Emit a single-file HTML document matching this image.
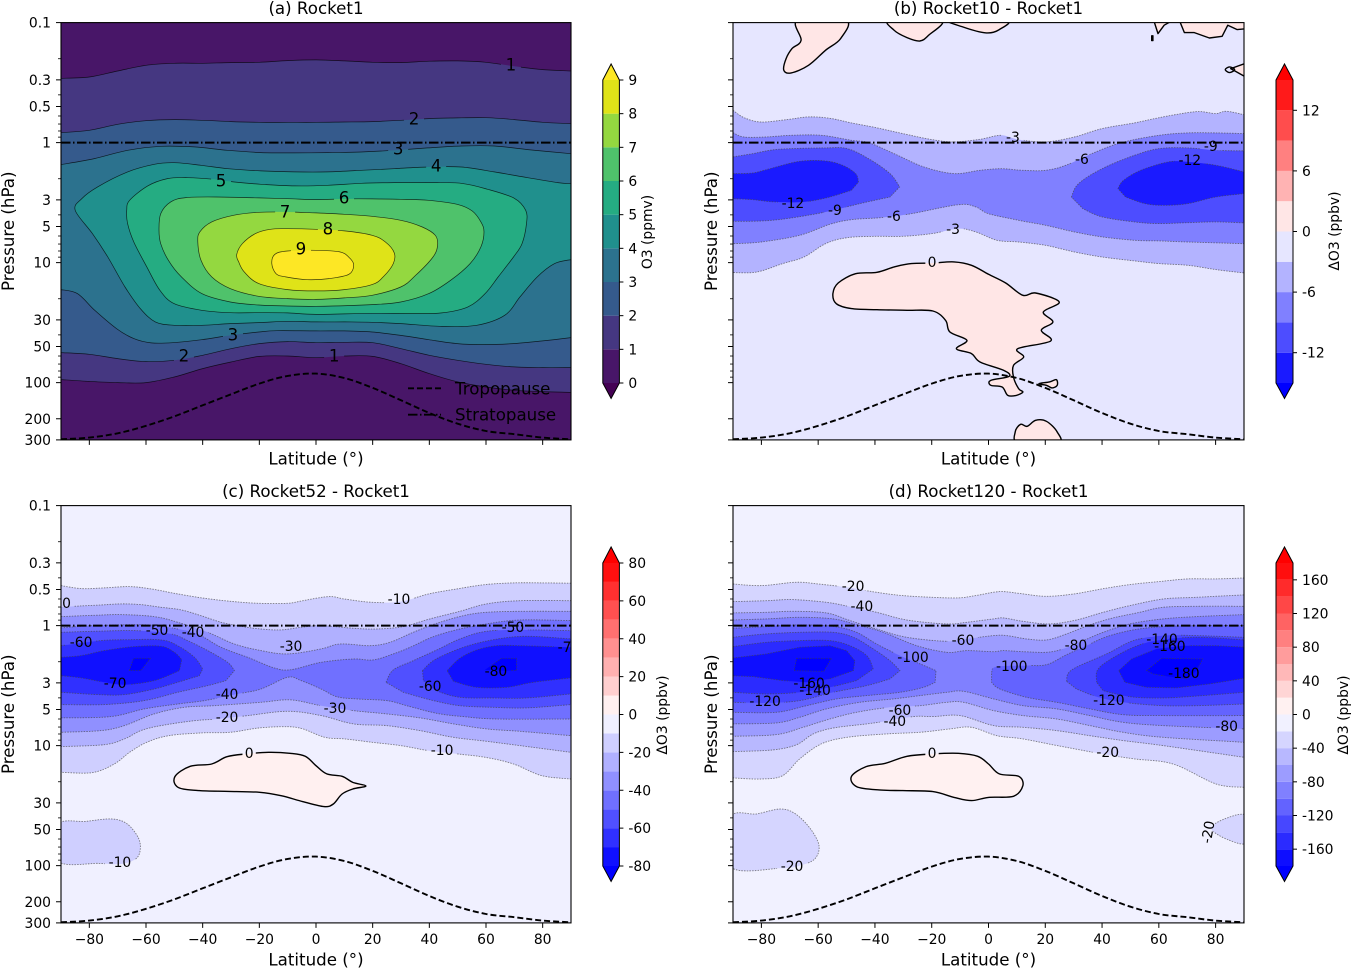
<!DOCTYPE html>
<html lang="en">
<head>
<meta charset="utf-8">
<title>Ozone response contour panels</title>
<style>
html,body{margin:0;padding:0;background:#fff;}
svg{display:block;font-family:"DejaVu Sans","Liberation Sans",sans-serif;}
</style>
</head>
<body>
<svg id="figure" width="1351" height="968" viewBox="0 0 1351 968" xmlns="http://www.w3.org/2000/svg"></svg>
<script>
// All coordinates below are [latitude in degrees, log10(pressure in hPa)].
const xTickValues = [-80,-60,-40,-20,0,20,40,60,80];
const pressureMajor = [0.1,0.3,0.5,1,3,5,10,30,50,100,200,300];
const pressureMinor = [0.2,0.4,0.6,0.7,0.8,0.9,2,4,6,7,8,9,20,40,60,70,80,90];
const tropopauseLat = [-90,-80,-70,-60,-50,-40,-30,-20,-10,0,10,20,30,40,50,60,70,80,90];
const tropopauseLogP = [2.472,2.458,2.422,2.36,2.281,2.189,2.097,2.008,1.944,1.925,1.961,2.044,2.147,2.253,2.342,2.403,2.43,2.458,2.472];

// Panel (a) contours
const a1U=[[-90,-.536],[-80,-.547],[-70,-.597],[-60,-.644],[-50,-.661],[-40,-.661],[-30,-.667],[-20,-.669],[-10,-.683],[0,-.689],[10,-.681],[20,-.669],[30,-.667],[40,-.678],[50,-.681],[60,-.669],[70,-.636],[80,-.608],[90,-.597]];
const a1L=[[-90,1.975],[-80,1.99],[-70,2],[-60,2],[-50,1.953],[-40,1.883],[-30,1.828],[-20,1.781],[-10,1.778],[0,1.792],[10,1.778],[20,1.781],[30,1.842],[40,1.925],[50,1.994],[60,2.036],[70,2.064],[80,2.075],[90,2.081]];
const a2U=[[-90,-.083],[-80,-.103],[-70,-.153],[-60,-.183],[-50,-.192],[-40,-.186],[-30,-.175],[-20,-.169],[-10,-.169],[0,-.169],[10,-.172],[20,-.175],[30,-.186],[40,-.2],[50,-.206],[60,-.208],[70,-.192],[80,-.169],[90,-.158]];
const a2L=[[-90,1.75],[-80,1.764],[-70,1.8],[-60,1.825],[-50,1.814],[-40,1.772],[-30,1.717],[-20,1.675],[-10,1.658],[0,1.667],[10,1.664],[20,1.667],[30,1.717],[40,1.772],[50,1.814],[60,1.847],[70,1.869],[80,1.875],[90,1.875]];
const a3U=[[-90,.183],[-78.2,.133],[-66.5,.064],[-54.7,.031],[-43,.036],[-31.2,.064],[-19.4,.083],[-7.6,.086],[4.1,.083],[15.9,.078],[27.6,.064],[39.4,.044],[51.2,.028],[62.9,.028],[74.7,.058],[90,.092]];
const a3L=[[-90,1.225],[-84.2,1.258],[-78.1,1.397],[-70.4,1.55],[-64.3,1.633],[-58.2,1.669],[-50.5,1.667],[-40.3,1.642],[-30.2,1.606],[-20.2,1.578],[-13.8,1.567],[0,1.569],[10,1.569],[19.8,1.578],[29.9,1.606],[39.8,1.642],[49.8,1.675],[59.7,1.683],[69.7,1.675],[79.6,1.653],[90,1.625]];
const a4=[[-85,.564],[-82.7,.467],[-77.1,.369],[-66.5,.244],[-57.1,.181],[-50,.167],[-40.6,.189],[-31.2,.217],[-19.4,.236],[-7.6,.244],[4.1,.244],[15.9,.231],[27.6,.217],[39.4,.203],[51.2,.203],[62.9,.244],[74.7,.292],[85.3,.333],[90,.342],[91,.342],[91,.975],[90,.975],[84.2,1.008],[78.1,1.119],[72,1.286],[66.6,1.439],[56.7,1.522],[44.4,1.531],[29.9,1.508],[19.8,1.497],[10,1.494],[0,1.494],[-10.1,1.489],[-20.2,1.5],[-30.2,1.508],[-40.3,1.522],[-50,1.522],[-56.7,1.494],[-62,1.383],[-67.4,1.203],[-73.5,.953],[-78.9,.758]];
const a5=[[-66.8,.564],[-65.8,.481],[-59.4,.361],[-52.4,.3],[-45.3,.292],[-35.9,.306],[-28.8,.328],[-19.4,.347],[-7.6,.361],[4.1,.356],[15.9,.339],[27.6,.333],[39.4,.333],[51.2,.339],[60.6,.389],[70,.464],[74,.564],[74.3,.675],[72.7,.842],[69.7,.953],[64.3,1.119],[59.7,1.258],[53.6,1.369],[44.4,1.419],[33.7,1.425],[19.8,1.422],[0,1.431],[-10.1,1.419],[-20.2,1.417],[-30.2,1.417],[-40.3,1.397],[-50,1.342],[-55.1,1.231],[-59.7,1.036],[-64.3,.828],[-66.5,.675]];
const a6=[[-55.4,.731],[-54.8,.592],[-51.3,.494],[-45.9,.458],[-35.2,.453],[-20.2,.461],[-10.1,.467],[0,.475],[10,.469],[19.8,.469],[29.9,.472],[39.8,.481],[49.8,.514],[55.1,.569],[58.2,.661],[59.3,.744],[58.2,.869],[54.4,1.008],[47.5,1.147],[39.8,1.258],[29.9,1.328],[19.8,1.35],[0,1.364],[-10.1,1.361],[-20.2,1.353],[-30.2,1.328],[-40.3,1.258],[-47.5,1.119],[-52.1,.981],[-54.8,.842]];
const a7=[[-41.7,.828],[-41,.744],[-36.8,.661],[-29.1,.606],[-20.2,.581],[-10.1,.578],[0,.586],[10,.597],[19.8,.614],[29.9,.647],[37.5,.703],[42.1,.772],[42.9,.856],[41.3,.953],[35.2,1.106],[29.9,1.203],[19.8,1.272],[10,1.294],[0,1.306],[-10.1,1.3],[-20.2,1.281],[-30.2,1.217],[-36.8,1.119],[-40.6,.981]];
const a8=[[-28,.933],[-26,.842],[-21.4,.758],[-16.1,.722],[-10.1,.717],[0,.722],[10,.736],[19.8,.772],[24.5,.828],[27.6,.917],[27.3,1.008],[23.7,1.119],[19.8,1.183],[10,1.225],[0,1.236],[-10.1,1.225],[-20.2,1.175],[-25.3,1.078],[-27.3,.994]];
const a9=[[-15.6,1.008],[-14.5,.931],[-10.1,.903],[0,.897],[8.4,.911],[11.5,.953],[13.3,1.017],[11.6,1.097],[4.6,1.133],[-3.1,1.142],[-10.7,1.119],[-14.1,1.092]];

// Panel (b) contours
const b3U=[[-90,-.269],[-86.1,-.208],[-80.1,-.172],[-71,-.192],[-63.4,-.214],[-55.9,-.203],[-48.3,-.164],[-39.7,-.125],[-30.2,-.075],[-19.9,-.025],[-12.1,-.006],[-3,-.028],[4.5,-.061],[10.6,-.025],[20.1,-.006],[30.2,-.047],[40,-.117],[51.4,-.164],[60.1,-.208],[70.2,-.25],[74.8,-.258],[80.1,-.242],[83.8,-.261],[90,-.233]];
const b3L=[[-90,1.083],[-81.6,1.078],[-72.5,1.008],[-65,.953],[-57.4,.842],[-49.8,.792],[-39.7,.781],[-30.2,.781],[-19.9,.758],[-10.6,.717],[-4.5,.744],[3,.814],[10.6,.828],[20.1,.856],[30.2,.911],[40,.953],[51.4,.986],[60.1,1.008],[70.2,1.022],[80.1,1.058],[90,1.086]];
const b6U=[[-90,-.083],[-86.1,-.047],[-78.5,-.047],[-69.5,-.061],[-58.9,-.061],[-48.3,-.019],[-42.3,0],[-33.2,.092],[-22.7,.203],[-12.1,.258],[-3,.231],[4.5,.217],[12.1,.231],[20.1,.231],[27.2,.189],[36.3,.092],[46.8,0],[60.1,-.061],[70.2,-.081],[80.1,-.081],[90,-.075]];
const b6L=[[-90,.842],[-80.1,.828],[-66.5,.772],[-55.9,.681],[-48.3,.642],[-37.8,.625],[-27.2,.592],[-10.6,.517],[-4.5,.536],[0,.592],[10.6,.647],[20.1,.689],[30.2,.744],[40,.786],[51.4,.814],[60.1,.819],[70.2,.828],[90,.842]];
const b9LeftU=[[-90,.119],[-83.1,.092],[-74,.056],[-57.4,.044],[-49.8,.05],[-42.3,.133],[-34.7,.258],[-31.3,.369]];
const b9LeftL=[[-90,.656],[-80.1,.653],[-71,.633],[-57.4,.578],[-45.3,.508],[-34.7,.453]];
const b9RightU=[[29.2,.453],[31.7,.342],[40,.217],[51.4,.106],[60.1,.05],[70.2,.044],[80.1,.064],[90,.069]];
const b9RightL=[[33.2,.55],[40,.619],[51.4,.661],[60.1,.675],[70.2,.667],[80.1,.661],[90,.669]];
const b12LeftU=[[-90,.258],[-83.1,.253],[-77,.217],[-66.5,.156],[-57.4,.153],[-51.4,.189],[-46.8,.258],[-45.8,.328]];
const b12LeftL=[[-90,.467],[-83.1,.475],[-75.5,.494],[-65,.494],[-55.9,.453],[-48.3,.397]];
const b12RightU=[[45.6,.383],[47.6,.314],[53.6,.231],[63.4,.161],[70.2,.161],[80.1,.189],[90,.244]];
const b12RightL=[[48.3,.453],[55.1,.508],[61.9,.522],[70.2,.508],[80.1,.453],[90,.425]];
const bIslandMain=[[-54.8,1.258],[-52.9,1.169],[-46.8,1.092],[-39.3,1.081],[-33.2,1.036],[-27.2,1.008],[-19.6,1.003],[-12.1,.994],[-6,1.022],[0,1.097],[6,1.169],[12.1,1.272],[16.6,1.253],[24.9,1.328],[19.3,1.411],[22.7,1.494],[18.6,1.564],[21.9,1.653],[10.3,1.717],[12.4,1.786],[8.8,1.856],[8.8,1.953],[10.6,2.05],[12.1,2.078],[9.8,2.106],[6.8,2.106],[4.8,2.036],[.8,2.022],[.8,1.981],[7.3,1.947],[5.3,1.897],[-3,1.828],[-6,1.758],[-11.3,1.717],[-7.6,1.647],[-13.6,1.578],[-15.1,1.481],[-19.6,1.403],[-28.7,1.397],[-39.3,1.392],[-48.3,1.383],[-53.6,1.342]];
const bIslandTop1=[[-67.2,-1.02],[-66,-.853],[-69.2,-.783],[-71.3,-.7],[-72.1,-.603],[-69.5,-.581],[-63.4,-.644],[-57.4,-.769],[-52.1,-.867],[-50.2,-1.02]];
const bIslandTop2=[[-34.7,-1.02],[-33.2,-.936],[-28.7,-.875],[-24.2,-.847],[-21.1,-.894],[-16.6,-1.02]];
const bIslandTop3=[[-13.6,-1.02],[-9.1,-.964],[-.8,-.914],[3.8,-.942],[6.3,-1.02]];
const bIslandTop4=[[58.2,-1.02],[59.7,-.908],[61.9,-.978],[65,-1.02]];
const bIslandTop5=[[67.2,-1.02],[69,-.917],[72.5,-.917],[77.8,-.872],[82.3,-.886],[84.3,-.978],[87.6,-.942],[91,-.95],[91,-1.02]];
const bIslandEdge=[[91,-.664],[85.3,-.617],[91,-.542]];
const bIslandBottom=[[10.6,2.5],[9.4,2.411],[11.3,2.347],[13.6,2.364],[16.6,2.314],[20.4,2.322],[24.2,2.411],[24.5,2.5]];
const bIslandTiny=[[17.8,2.008],[21.5,1.994],[23.9,1.975],[24.2,2.022],[22.4,2.044],[20.4,2.022]];
const bHoleEdge=[[83.4,-.608],[84.9,-.631],[86.7,-.608],[84.9,-.583]];
const bHoleDot=[[57.5,-.89],[57.9,-.89],[57.9,-.85],[57.5,-.85]];

// Panel (c) contours
const c10U=[[-90,-.333],[-82.7,-.308],[-75,-.314],[-65.8,-.325],[-58.2,-.306],[-50,-.269],[-40.3,-.231],[-30.2,-.203],[-20.2,-.186],[-10.1,-.186],[-4.6,-.208],[4.6,-.242],[10,-.222],[19.8,-.194],[29.9,-.2],[39.8,-.264],[49.8,-.306],[59.7,-.342],[69.7,-.356],[79.6,-.356],[90,-.353]];
const c10L=[[-90,1.222],[-78.9,1.225],[-71.2,1.153],[-65.8,1.056],[-59.7,.972],[-52,.917],[-40.3,.894],[-30.2,.889],[-20.2,.853],[-10.1,.842],[-4.6,.861],[3.1,.931],[10,.944],[19.8,.972],[29.9,1],[39.8,1.042],[49.8,1.069],[59.7,1.097],[69.7,1.153],[79.6,1.25],[90,1.278]];
const c10Blob=[[-91,1.658],[-81.2,1.631],[-72,1.611],[-66.6,1.653],[-62.8,1.764],[-62,1.861],[-63.6,1.944],[-68.9,1.986],[-76.6,1.981],[-91,1.964]];
const c20U=[[-90,-.153],[-82.9,-.164],[-75.9,-.172],[-68.8,-.181],[-61.8,-.175],[-54.7,-.153],[-47.6,-.131],[-40.6,-.083],[-33.5,-.028],[-26.5,.006],[-19.4,.028],[-12.4,.036],[-5.3,.014],[1.8,0],[13.2,.022],[21.4,.028],[30.8,.008],[40.2,-.056],[50.8,-.119],[60.2,-.181],[72,-.208],[90,-.208]];
const c20L=[[-90,1.008],[-74.7,.992],[-67.6,.944],[-61.8,.875],[-54.7,.833],[-42.9,.792],[-34.7,.778],[-24.1,.75],[-10,.714],[1.8,.75],[13.2,.819],[24.9,.833],[36.7,.875],[48.5,.931],[60.2,.964],[72,1],[90,1.056]];
const c30U=[[-90,-.075],[-78.2,-.086],[-68.8,-.092],[-57.1,-.075],[-48.8,-.028],[-38.2,.056],[-28.8,.153],[-19.4,.208],[-10,.236],[1.8,.194],[8.5,.153],[19,.167],[26.1,.139],[34.3,.056],[42.6,-.019],[52,-.083],[60.2,-.111],[72,-.119],[90,-.119]];
const c30L=[[-90,.889],[-75.9,.875],[-67.6,.833],[-57.1,.736],[-46.5,.681],[-35.9,.667],[-19.4,.639],[-8.8,.619],[1.8,.667],[13.2,.708],[24.9,.736],[36.7,.769],[48.5,.819],[60.2,.861],[72,.881],[90,.917]];
const c40U=[[-90,.019],[-78.2,0],[-59.4,-.006],[-48.8,.028],[-41.8,.069],[-33.5,.181],[-24.1,.264],[-14.7,.353],[-8.8,.367],[1.8,.306],[13.2,.278],[20.2,.286],[27.3,.236],[33.2,.181],[41.4,.092],[50.8,.028],[60.2,-.014],[72,-.047],[90,-.042]];
const c40L=[[-90,.769],[-72.4,.758],[-60.6,.694],[-48.8,.653],[-39.4,.625],[-27.6,.569],[-19.4,.528],[-10,.431],[-5.3,.458],[1.8,.528],[7.3,.592],[14.3,.611],[24.9,.625],[32,.667],[42.6,.731],[52,.758],[63.8,.778],[90,.778]];
const c50LeftU=[[-90,.056],[-78.2,.047],[-62.9,.042],[-51.2,.069],[-45.3,.125],[-38.2,.208],[-31.2,.306],[-28.8,.375]];
const c50LeftL=[[-90,.658],[-74.7,.658],[-60.6,.625],[-48.8,.556],[-38.2,.5],[-31.8,.458]];
const c50RightU=[[24.7,.472],[27.3,.369],[34.3,.292],[42.6,.203],[50.8,.111],[60.2,.047],[74.3,.036],[90,.042]];
const c50RightL=[[30.8,.556],[41.4,.625],[50.8,.667],[62.6,.681],[74.3,.686],[90,.658]];
const c60LeftU=[[-90,.167],[-75.9,.125],[-66.5,.117],[-54.7,.119],[-48.8,.167],[-42.9,.264],[-40,.361]];
const c60LeftL=[[-90,.556],[-77.1,.575],[-67.6,.575],[-57.1,.528],[-48.8,.472],[-41.2,.417]];
const c60RightU=[[37.6,.375],[42,.283],[52,.181],[62.6,.117],[74.3,.089],[90,.111]];
const c60RightL=[[37.9,.458],[42.6,.542],[50.8,.597],[62.6,.603],[74.3,.603],[90,.569]];
const c70LeftU=[[-90,.264],[-82.9,.25],[-74.7,.208],[-64.1,.175],[-54.7,.172],[-50,.222],[-47.4,.283]];
const c70LeftL=[[-90,.417],[-82.9,.436],[-74.7,.472],[-67.6,.492],[-57.1,.458],[-48.2,.375]];
const c70RightU=[[46.3,.375],[50.8,.272],[56.7,.203],[63.8,.167],[72,.167],[90,.181]];
const c70RightL=[[48.5,.464],[56.7,.514],[67.3,.514],[76.7,.472],[90,.436]];
const c80Left=[[-65.9,.375],[-64.4,.272],[-58.5,.272],[-61.8,.375]];
const c80Right=[[59.6,.369],[65.5,.272],[70.8,.272],[70.8,.375],[66.1,.375]];
const cIsland=[[-49.8,1.258],[-44.4,1.172],[-36.8,1.153],[-31.4,1.092],[-24.5,1.069],[-16.8,1.056],[-9.2,1.064],[-3.8,1.089],[0,1.167],[3.8,1.236],[9.2,1.256],[13,1.306],[17.6,1.336],[13,1.361],[9.2,1.403],[6.1,1.486],[2.8,1.508],[-4.6,1.467],[-12.3,1.417],[-19.9,1.389],[-30.6,1.381],[-41.3,1.375],[-48.7,1.347]];

// Panel (d) contours
const d20U=[[-90,-.347],[-80.1,-.333],[-68,-.361],[-60,-.347],[-48.3,-.314],[-39.7,-.278],[-30.2,-.25],[-19.9,-.236],[-10.6,-.231],[-4.5,-.25],[3.8,-.283],[10.6,-.269],[20.1,-.244],[30.2,-.264],[40,-.306],[49.8,-.342],[60.1,-.367],[70.2,-.389],[80.1,-.389],[90,-.397]];
const d20L=[[-90,1.269],[-80.1,1.278],[-72.5,1.25],[-66.5,1.111],[-58.9,.986],[-49.8,.931],[-36.3,.903],[-24.2,.889],[-13.6,.861],[-6,.847],[3,.917],[12.1,.944],[24.2,1],[40,1.069],[51.4,1.111],[65,1.153],[80.1,1.319],[90,1.347]];
const d20BlobLeft=[[-91,1.597],[-81.6,1.569],[-73.3,1.528],[-68,1.569],[-62.7,1.694],[-59.7,1.833],[-61.2,1.944],[-66.5,2],[-73.3,2.022],[-91,2.008]];
const d20BlobRight=[[91,1.583],[83.1,1.611],[78.5,1.694],[84.6,1.786],[91,1.806]];
const d40U=[[-90,-.2],[-78.2,-.208],[-68.8,-.217],[-57.1,-.194],[-48.8,-.158],[-39.4,-.111],[-28.8,-.047],[-14.7,-.014],[-7.6,-.028],[1.8,-.056],[5.2,-.064],[12.2,-.036],[21.6,-.014],[31,-.047],[40.4,-.111],[49.8,-.167],[61.5,-.222],[73.3,-.236],[90,-.256]];
const d40L=[[-90,1.05],[-75.9,1.036],[-67.6,.992],[-61.8,.903],[-54.7,.853],[-42.9,.819],[-37.1,.8],[-26.5,.758],[-19.4,.758],[-10,.75],[1.8,.833],[12.2,.847],[24,.875],[35.7,.917],[47.4,.958],[61.5,1],[90,1.097]];
const d60U=[[-90,-.106],[-78.2,-.111],[-68.8,-.119],[-57.1,-.106],[-48.8,-.042],[-39.4,.028],[-28.8,.097],[-14.7,.131],[-7.6,.111],[1.8,.083],[6.4,.083],[13.4,.111],[20.5,.119],[27.5,.069],[35.7,-.006],[43.9,-.064],[53.3,-.111],[61.5,-.153],[73.3,-.161],[90,-.161]];
const d60L=[[-90,.922],[-74.7,.908],[-65.3,.847],[-55.9,.778],[-46.5,.722],[-34.7,.681],[-24.1,.667],[-14.7,.639],[-8.8,.639],[1.8,.708],[12.2,.75],[24,.778],[35.7,.833],[47.4,.889],[61.5,.931],[90,.972]];
const d80U=[[-90,-.047],[-78.2,-.056],[-66.5,-.069],[-54.7,-.056],[-46.5,-.008],[-37.1,.056],[-25.3,.167],[-14.7,.222],[-7.6,.208],[1.8,.217],[5.2,.208],[12.2,.217],[20.5,.222],[26.3,.194],[33.4,.125],[40.4,.056],[49.8,-.014],[61.5,-.056],[73.3,-.075],[90,-.092]];
const d80L=[[-90,.819],[-74.7,.811],[-66.5,.764],[-57.1,.694],[-45.3,.639],[-33.5,.611],[-24.1,.583],[-14.7,.556],[-8.8,.547],[1.8,.611],[12.2,.667],[24,.694],[35.7,.75],[47.4,.806],[61.5,.833],[90,.861]];
const d100LeftU=[[-90,.022],[-78.2,.008],[-66.5,-.006],[-54.7,.006],[-46.5,.056],[-39.4,.153],[-31.2,.25],[-24.1,.319],[-18.5,.375]];
const d100LeftL=[[-90,.722],[-74.7,.722],[-64.1,.667],[-53.5,.611],[-42.9,.583],[-31.2,.556],[-22.9,.514],[-18.8,.472]];
const d100RightU=[[1.1,.389],[2.8,.342],[13.4,.333],[20.5,.325],[27.5,.242],[34.5,.167],[41.6,.092],[51,.036],[61.5,.008],[75.6,0],[90,0]];
const d100RightL=[[1.1,.472],[4,.528],[13.4,.597],[24,.639],[35.7,.694],[47.4,.742],[61.5,.75],[90,.75]];
const d120LeftU=[[-90,.097],[-78.2,.069],[-66.5,.056],[-54.7,.056],[-47.6,.097],[-40.6,.194],[-34.7,.292],[-31.2,.375]];
const d120LeftL=[[-90,.639],[-78.2,.644],[-66.5,.625],[-54.7,.556],[-42.9,.5],[-34.7,.444]];
const d120RightU=[[27.5,.464],[29.3,.369],[41.6,.236],[51,.125],[61.5,.083],[73.3,.083],[90,.097]];
const d120RightL=[[31,.528],[38.1,.592],[47.4,.639],[61.5,.667],[73.3,.667],[90,.653]];
const d140LeftU=[[-90,.175],[-78.2,.139],[-66.5,.125],[-55.9,.125],[-48.8,.167],[-42.9,.25],[-40.6,.361]];
const d140LeftL=[[-90,.556],[-78.2,.569],[-66.5,.556],[-55.9,.514],[-46.5,.458]];
const d140RightU=[[38.1,.472],[38.3,.375],[42.2,.292],[51,.181],[59.2,.125],[73.3,.097],[90,.119]];
const d140RightL=[[40.4,.542],[49.8,.592],[61.5,.603],[75.6,.583],[90,.556]];
const d160Left=[[-91,.272],[-78.2,.236],[-66.5,.181],[-55.9,.167],[-50,.208],[-47.1,.292],[-47.6,.375],[-55.9,.444],[-64.1,.472],[-72.4,.458],[-82.9,.425],[-91,.417]];
const d160Right=[[45.9,.375],[50.4,.278],[59.2,.194],[68.6,.167],[80.3,.167],[91,.181],[91,.436],[78,.486],[66.2,.519],[55.7,.514],[48,.472]];
const d180Left=[[-67.6,.272],[-55.3,.272],[-58,.381],[-68.5,.375]];
const d180Right=[[55.7,.375],[61,.272],[75.4,.278],[73.3,.375],[69.7,.444],[61.5,.417],[58,.403]];
const dIsland=[[-48.3,1.258],[-43.1,1.175],[-36.3,1.147],[-28.7,1.089],[-19.6,1.069],[-10.6,1.064],[-3.8,1.089],[0,1.153],[3.8,1.236],[10.6,1.256],[12.1,1.333],[8.8,1.422],[0,1.431],[-6,1.458],[-12.1,1.431],[-19.6,1.383],[-30.2,1.375],[-38.5,1.369],[-46.4,1.342]];

// Colour-bar levels and band colours
const aLevels=[0,1,2,3,4,5,6,7,8,9];
const aColors=['#481668','#453781','#355a8c','#2c728e','#20908d','#25ac82','#4fc26b','#94d840','#dfe318'];
const aTicks=[0,1,2,3,4,5,6,7,8,9];
const bLevels=[-15,-12,-9,-6,-3,0,3,6,9,12,15];
const bColors=['#1a1aff','#4d4dff','#8080ff','#b3b3ff','#e6e6ff','#ffe6e6','#ffb3b3','#ff8080','#ff4d4d','#ff1a1a'];
const bTicks=[-12,-6,0,6,12];
const cLevels=[-80,-70,-60,-50,-40,-30,-20,-10,0,10,20,30,40,50,60,70,80];
const cColors=['#1010ff','#3030ff','#5050ff','#7070ff','#9090ff','#b0b0ff','#cfcfff','#f0f0ff','#fff0f0','#ffcfcf','#ffb0b0','#ff9090','#ff7070','#ff5050','#ff3030','#ff1010'];
const cTicks=[-80,-60,-40,-20,0,20,40,60,80];
const dLevels=[-180,-160,-140,-120,-100,-80,-60,-40,-20,0,20,40,60,80,100,120,140,160,180];
const dColors=['#0e0eff','#2b2bff','#4747ff','#6363ff','#8080ff','#9c9cff','#b8b8ff','#d5d5ff','#f1f1ff','#fff1f1','#ffd5d5','#ffb8b8','#ff9c9c','#ff8080','#ff6363','#ff4747','#ff2b2b','#ff0e0e'];
const dTicks=[-160,-120,-80,-40,0,40,80,120,160];

// Contour label text with position
const aLabelText=['1','2','3','4','5','6','7','8','9','3','2','1'];
const aLabelLat=[68.8,34.6,29,42.4,-33.5,9.9,-10.9,4.2,-5.3,-29.3,-46.6,6.4];
const aLabelLogP=[-.655,-.205,.045,.187,.312,.453,.57,.712,.878,1.595,1.77,1.77];
const bLabelText=['-3','-6','-9','-12','-12','-9','-6','-3','0'];
const bLabelLat=[8.6,32.9,78.3,70.9,-68.9,-54.1,-33.3,-12.5,-19.9];
const bLabelLogP=[-.047,.137,.028,.145,.503,.562,.612,.72,.995];
const cLabelText=['-70','-10','-50','-40','-60','-30','-50','-70','-80','-70','-60','-40','-30','-20','-10','0','-10'];
const cLabelLat=[-90.5,29.3,-56.1,-43.4,-82.9,-8.8,69.5,89.3,63.5,-70.9,40.3,-31.4,6.7,-31.4,44.5,-23.6,-69.2];
const cLabelLogP=[-.188,-.222,.037,.053,.137,.17,.012,.178,.378,.478,.503,.57,.687,.762,1.037,1.062,1.97];
const dLabelText=['-20','-40','-60','-100','-100','-80','-140','-160','-180','-160','-140','-120','-120','-60','-40','-80','-20','0','-20','-20'];
const dLabelLat=[-47.7,-44.6,-9,-26.6,8.2,30.8,61.1,63.9,68.8,-63.2,-61.1,-78.7,42.4,-31.2,-33,83.9,42,-19.9,-69.2,77.6];
const dLabelLogP=[-.33,-.163,.12,.262,.337,.162,.112,.17,.395,.478,.537,.628,.62,.703,.795,.837,1.053,1.062,2.003,1.712];

const svg=document.getElementById('figure');
const NS='http://www.w3.org/2000/svg';
const TICK=13.89, LABEL=16.67, SHIFT=1;
function make(tag,name,attrs,parent,text){
  const node=document.createElementNS(NS,tag);
  
  
  for(const k in attrs)node.setAttribute(k,attrs[k]);
  if(text!==undefined)node.textContent=text;
  (parent||svg).appendChild(node);
  return node;
}
function segs(p){
  let s='';
  for(let i=0;i<p.length-1;i++){
    const a=p[Math.max(i-1,0)],b=p[i],c=p[i+1],d=p[Math.min(i+2,p.length-1)];
    s+='C'+(b[0]+(c[0]-a[0])/6).toFixed(1)+' '+(b[1]+(c[1]-a[1])/6).toFixed(1)+' '+(c[0]-(d[0]-b[0])/6).toFixed(1)+' '+(c[1]-(d[1]-b[1])/6).toFixed(1)+' '+c[0].toFixed(1)+' '+c[1].toFixed(1);
  }
  return s;
}
function linePath(p){return 'M'+p.map(q=>q[0].toFixed(1)+' '+q[1].toFixed(1)).join('L');}
function panelAxes(left,top,width,height){
  const dec=height/Math.log10(3000);
  return {
    left,top,width,height,
    x:lat=>left+(lat+90)/180*width,
    y:lp=>top+(lp+1)*dec
  };
}
function project(ax,pts){return pts.map(q=>[ax.x(q[0]),ax.y(q[1])]);}
function bandPath(ax,up,low){
  const u=project(ax,up),l=project(ax,low).reverse();
  return 'M'+u[0][0].toFixed(1)+' '+u[0][1].toFixed(1)+segs(u)+'L'+l[0][0].toFixed(1)+' '+l[0][1].toFixed(1)+segs(l)+'Z';
}
function ringPath(ax,ring,smooth){
  const r=project(ax,ring);
  if(!smooth)return linePath(r)+'Z';
  const n=r.length;let s='M'+r[0][0].toFixed(1)+' '+r[0][1].toFixed(1);
  for(let i=0;i<n;i++){
    const a=r[(i-1+n)%n],b=r[i],c=r[(i+1)%n],d=r[(i+2)%n];
    s+='C'+(b[0]+(c[0]-a[0])/6).toFixed(1)+' '+(b[1]+(c[1]-a[1])/6).toFixed(1)+' '+(c[0]-(d[0]-b[0])/6).toFixed(1)+' '+(c[1]-(d[1]-b[1])/6).toFixed(1)+' '+c[0].toFixed(1)+' '+c[1].toFixed(1);
  }
  return s+'Z';
}
function drawPanel(cfg){
  const ax=panelAxes(cfg.left,cfg.top,cfg.width,cfg.height);
  const g=make('g',cfg.id+'-panel',{},svg);
  const clipId=cfg.id+'-clip',maskId=cfg.id+'-label-gaps';
  const defs=make('defs',cfg.id+'-defs',{},g);
  const cp=make('clipPath',cfg.id+'-clip-path',{id:clipId},defs);
  make('rect',cfg.id+'-clip-rect',{x:ax.left,y:ax.top,width:ax.width,height:ax.height},cp);
  const mask=make('mask',cfg.id+'-label-gap-mask',{id:maskId,maskUnits:'userSpaceOnUse',x:ax.left-2,y:ax.top-2,width:ax.width+4,height:ax.height+4},defs);
  make('rect',cfg.id+'-mask-base',{x:ax.left-2,y:ax.top-2,width:ax.width+4,height:ax.height+4,fill:'#fff'},mask);
  cfg.labelText.forEach((t,i)=>{
    const w=t.length*cfg.labelSize*.6+cfg.labelPad,h=cfg.labelGapH,cxL=ax.x(cfg.labelLat[i]),cyL=ax.y(cfg.labelLogP[i]);
    const a={x:cxL-w/2,y:cyL-h/2,width:w,height:h,fill:'#000'};
    if(cfg.rotated===i)a.transform='rotate(-80 '+cxL+' '+cyL+')';
    make('rect',cfg.id+'-mask-gap',a,mask);
  });
  const plot=make('g',cfg.id+'-plot-area',{'clip-path':'url(#'+clipId+')'},g);
  make('rect',cfg.id+'-background-band',{x:ax.left,y:ax.top,width:ax.width,height:ax.height,fill:cfg.base},plot);
  const paths=cfg.layers.map(layer=>layer.band?bandPath(ax,layer.band[0],layer.band[1]):ringPath(ax,layer.ring,layer.smooth!==false));
  cfg.layers.forEach((layer,i)=>{
    make('path',cfg.id+'-filled-'+layer.name,{d:paths[i],fill:layer.fill},plot);
  });
  const lines=make('g',cfg.id+'-contour-lines',{mask:'url(#'+maskId+')'},plot);
  cfg.layers.forEach((layer,i)=>{
    const attrs={d:paths[i],fill:'none'};
    if(layer.zero){attrs.stroke='#000';attrs['stroke-width']=1.4;attrs['stroke-linejoin']='round';}
    else if(cfg.solid){attrs.stroke='#000';attrs['stroke-width']=.7;attrs['stroke-opacity']=.75;}
    else{attrs.stroke='#444';attrs['stroke-opacity']=.65;attrs['stroke-width']=.9;attrs['stroke-dasharray']='1.5 1.2';}
    make('path',cfg.id+'-contour-'+layer.name,attrs,lines);
  });
  const tp=project(ax,tropopauseLat.map((lat,i)=>[lat,tropopauseLogP[i]]));
  make('path',cfg.id+'-tropopause-line',{d:'M'+tp[0][0].toFixed(1)+' '+tp[0][1].toFixed(1)+segs(tp),fill:'none',stroke:'#000','stroke-width':1.9,'stroke-dasharray':'6 3'},plot);
  make('line',cfg.id+'-stratopause-line',{x1:ax.left,x2:ax.left+ax.width,y1:ax.y(0),y2:ax.y(0),stroke:'#000','stroke-width':2,'stroke-dasharray':'9.5 2.5 1.5 2.5'},plot);
  cfg.labelText.forEach((t,i)=>{
    const a={x:ax.x(cfg.labelLat[i]),y:ax.y(cfg.labelLogP[i])+SHIFT,'text-anchor':'middle','dominant-baseline':'central','font-size':cfg.labelSize,fill:'#000'};
    if(cfg.rotated===i)a.transform='rotate(-80 '+a.x+' '+a.y+')';
    make('text',cfg.id+'-contour-label',a,plot,t);
  });
  if(cfg.legend){
    [['Tropopause','6 3',ax.y(2.047)],['Stratopause','9.5 2.5 1.5 2.5',ax.y(2.267)]].forEach(e=>{
      make('line','legend-line-'+e[0].toLowerCase(),{x1:408,x2:441,y1:e[2],y2:e[2],stroke:'#000','stroke-width':1.9,'stroke-dasharray':e[1]},plot);
      make('text','legend-entry-'+e[0].toLowerCase(),{x:455,y:e[2]+.5,'dominant-baseline':'central','font-size':LABEL,fill:'#000'},plot,e[0]);
    });
  }
  make('rect',cfg.id+'-axes-frame',{x:ax.left,y:ax.top,width:ax.width,height:ax.height,fill:'none',stroke:'#000','stroke-width':1.1},g);
  const bottom=ax.top+ax.height;
  xTickValues.forEach(v=>{
    const px=ax.x(v);
    make('line',cfg.id+'-x-tick',{x1:px,x2:px,y1:bottom,y2:bottom+5,stroke:'#000','stroke-width':1},g);
    if(cfg.xLabels)make('text',cfg.id+'-x-tick-label',{x:px,y:bottom+16+SHIFT,'text-anchor':'middle','dominant-baseline':'central','font-size':TICK},g,String(v).replace('-','\u2212'));
  });
  pressureMajor.forEach(p=>{
    const py=ax.y(Math.log10(p));
    make('line',cfg.id+'-y-tick',{x1:ax.left-5,x2:ax.left,y1:py,y2:py,stroke:'#000','stroke-width':1},g);
    if(cfg.yLabels)make('text',cfg.id+'-y-tick-label',{x:ax.left-10,y:py+SHIFT,'text-anchor':'end','dominant-baseline':'central','font-size':TICK},g,String(p));
  });
  pressureMinor.forEach(p=>{
    const py=ax.y(Math.log10(p));
    make('line',cfg.id+'-y-minor-tick',{x1:ax.left-3,x2:ax.left,y1:py,y2:py,stroke:'#000','stroke-width':.8},g);
  });
  const cx=ax.left+ax.width/2,cy=ax.top+ax.height/2;
  make('text',cfg.id+'-title',{x:cx,y:ax.top-14,'text-anchor':'middle','dominant-baseline':'central','font-size':LABEL},g,cfg.title);
  make('text',cfg.id+'-x-axis-title',{x:cx,y:bottom+19+(cfg.xLabels?18:0),'text-anchor':'middle','dominant-baseline':'central','font-size':LABEL},g,'Latitude (\u00b0)');
  make('text',cfg.id+'-y-axis-title',{x:cfg.yTitleX,y:cy,'text-anchor':'middle','dominant-baseline':'central','font-size':LABEL,transform:'rotate(-90 '+cfg.yTitleX+' '+cy+')'},g,'Pressure (hPa)');
  // colour bar
  const b=cfg.bar;
  const vToY=v=>b.top+(b.levels[b.levels.length-1]-v)/(b.levels[b.levels.length-1]-b.levels[0])*(b.bottom-b.top);
  const bg=make('g',cfg.id+'-colorbar',{},g);
  b.colors.forEach((c,i)=>{
    const y1=vToY(b.levels[i+1]),y0=vToY(b.levels[i]);
    make('rect',cfg.id+'-colorbar-band',{x:b.x,y:y1,width:b.w,height:y0-y1,fill:c},bg);
  });
  const xm=b.x+b.w/2;
  make('polygon',cfg.id+'-colorbar-over-tip',{points:b.x+','+b.top+' '+(b.x+b.w)+','+b.top+' '+xm+','+(b.top-16),fill:b.over},bg);
  make('polygon',cfg.id+'-colorbar-under-tip',{points:b.x+','+b.bottom+' '+(b.x+b.w)+','+b.bottom+' '+xm+','+(b.bottom+15.5),fill:b.under},bg);
  make('polygon',cfg.id+'-colorbar-outline',{points:[b.x+','+b.top,xm+','+(b.top-16),(b.x+b.w)+','+b.top,(b.x+b.w)+','+b.bottom,xm+','+(b.bottom+15.5),b.x+','+b.bottom].join(' '),fill:'none',stroke:'#000','stroke-width':1},bg);
  b.ticks.forEach(v=>{
    const py=vToY(v);
    make('line',cfg.id+'-colorbar-tick',{x1:b.x+b.w,x2:b.x+b.w+4,y1:py,y2:py,stroke:'#000','stroke-width':1},bg);
    make('text',cfg.id+'-colorbar-tick-label',{x:b.x+b.w+9,y:py+SHIFT,'dominant-baseline':'central','font-size':TICK},bg,String(v));
  });
  make('text',cfg.id+'-colorbar-title',{x:b.labelX,y:b.labelY,'text-anchor':'middle','dominant-baseline':'central','font-size':TICK,transform:'rotate(-90 '+b.labelX+' '+b.labelY+')'},bg,b.label);
}

drawPanel({id:'rocket1',title:'(a) Rocket1',left:61,top:22.6,width:510,height:417.3,base:aColors[0],solid:true,
  layers:[
    {name:'level-1',band:[a1U,a1L],fill:aColors[1]},
    {name:'level-2',band:[a2U,a2L],fill:aColors[2]},
    {name:'level-3',band:[a3U,a3L],fill:aColors[3]},
    {name:'level-4',ring:a4,fill:aColors[4]},
    {name:'level-5',ring:a5,fill:aColors[5]},
    {name:'level-6',ring:a6,fill:aColors[6]},
    {name:'level-7',ring:a7,fill:aColors[7]},
    {name:'level-8',ring:a8,fill:aColors[8]},
    {name:'level-9',ring:a9,fill:'#fde725'}
  ],
  labelText:aLabelText,labelLat:aLabelLat,labelLogP:aLabelLogP,labelSize:LABEL,labelPad:10,labelGapH:14,
  legend:true,xLabels:false,yLabels:true,yTitleX:8.5,
  bar:{x:602.8,w:16.6,top:80,bottom:383,levels:aLevels,colors:aColors,ticks:aTicks,over:'#fde725',under:'#440154',label:'O3 (ppmv)',labelX:648,labelY:232}
});
drawPanel({id:'rocket10',title:'(b) Rocket10 - Rocket1',left:733,top:22.6,width:511,height:417.3,base:bColors[4],
  layers:[
    {name:'minus-3',band:[b3U,b3L],fill:bColors[3]},
    {name:'minus-6',band:[b6U,b6L],fill:bColors[2]},
    {name:'minus-9-south',band:[b9LeftU,b9LeftL],fill:bColors[1]},
    {name:'minus-9-north',band:[b9RightU,b9RightL],fill:bColors[1]},
    {name:'minus-12-south',band:[b12LeftU,b12LeftL],fill:bColors[0]},
    {name:'minus-12-north',band:[b12RightU,b12RightL],fill:bColors[0]},
    {name:'zero-main',ring:bIslandMain,fill:bColors[5],zero:true},
    {name:'zero-top-1',ring:bIslandTop1,fill:bColors[5],zero:true},
    {name:'zero-top-2',ring:bIslandTop2,fill:bColors[5],zero:true},
    {name:'zero-top-3',ring:bIslandTop3,fill:bColors[5],zero:true},
    {name:'zero-top-4',ring:bIslandTop4,fill:bColors[5],zero:true,smooth:false},
    {name:'zero-top-5',ring:bIslandTop5,fill:bColors[5],zero:true,smooth:false},
    {name:'zero-edge',ring:bIslandEdge,fill:bColors[5],zero:true,smooth:false},
    {name:'zero-bottom',ring:bIslandBottom,fill:bColors[5],zero:true},
    {name:'zero-tiny',ring:bIslandTiny,fill:bColors[5],zero:true},
    {name:'zero-hole-edge',ring:bHoleEdge,fill:bColors[4],zero:true},
    {name:'zero-hole-dot',ring:bHoleDot,fill:'#000',zero:true,smooth:false}
  ],
  labelText:bLabelText,labelLat:bLabelLat,labelLogP:bLabelLogP,labelSize:TICK,labelPad:5,labelGapH:9,
  xLabels:false,yLabels:false,yTitleX:711.5,
  bar:{x:1276,w:17,top:80,bottom:383,levels:bLevels,colors:bColors,ticks:bTicks,over:'#ff0000',under:'#0000ff',label:'\u0394O3 (ppbv)',labelX:1335,labelY:231}
});
drawPanel({id:'rocket52',title:'(c) Rocket52 - Rocket1',left:61,top:505.6,width:510,height:417.3,base:cColors[7],
  layers:[
    {name:'minus-10',band:[c10U,c10L],fill:cColors[6]},
    {name:'minus-10-blob',ring:c10Blob,fill:cColors[6]},
    {name:'minus-20',band:[c20U,c20L],fill:cColors[5]},
    {name:'minus-30',band:[c30U,c30L],fill:cColors[4]},
    {name:'minus-40',band:[c40U,c40L],fill:cColors[3]},
    {name:'minus-50-south',band:[c50LeftU,c50LeftL],fill:cColors[2]},
    {name:'minus-50-north',band:[c50RightU,c50RightL],fill:cColors[2]},
    {name:'minus-60-south',band:[c60LeftU,c60LeftL],fill:cColors[1]},
    {name:'minus-60-north',band:[c60RightU,c60RightL],fill:cColors[1]},
    {name:'minus-70-south',band:[c70LeftU,c70LeftL],fill:cColors[0]},
    {name:'minus-70-north',band:[c70RightU,c70RightL],fill:cColors[0]},
    {name:'minus-80-south',ring:c80Left,fill:'#0000ff',smooth:false},
    {name:'minus-80-north',ring:c80Right,fill:'#0000ff',smooth:false},
    {name:'zero-island',ring:cIsland,fill:cColors[8],zero:true}
  ],
  labelText:cLabelText,labelLat:cLabelLat,labelLogP:cLabelLogP,labelSize:TICK,labelPad:5,labelGapH:9,
  xLabels:true,yLabels:true,yTitleX:8.5,
  bar:{x:602.8,w:16.6,top:563,bottom:866,levels:cLevels,colors:cColors,ticks:cTicks,over:'#ff0000',under:'#0000ff',label:'\u0394O3 (ppbv)',labelX:663,labelY:715}
});
drawPanel({id:'rocket120',title:'(d) Rocket120 - Rocket1',left:733,top:505.6,width:511,height:417.3,base:dColors[8],
  layers:[
    {name:'minus-20',band:[d20U,d20L],fill:dColors[7]},
    {name:'minus-20-blob-south',ring:d20BlobLeft,fill:dColors[7]},
    {name:'minus-20-blob-north',ring:d20BlobRight,fill:dColors[7]},
    {name:'minus-40',band:[d40U,d40L],fill:dColors[6]},
    {name:'minus-60',band:[d60U,d60L],fill:dColors[5]},
    {name:'minus-80',band:[d80U,d80L],fill:dColors[4]},
    {name:'minus-100-south',band:[d100LeftU,d100LeftL],fill:dColors[3]},
    {name:'minus-100-north',band:[d100RightU,d100RightL],fill:dColors[3]},
    {name:'minus-120-south',band:[d120LeftU,d120LeftL],fill:dColors[2]},
    {name:'minus-120-north',band:[d120RightU,d120RightL],fill:dColors[2]},
    {name:'minus-140-south',band:[d140LeftU,d140LeftL],fill:dColors[1]},
    {name:'minus-140-north',band:[d140RightU,d140RightL],fill:dColors[1]},
    {name:'minus-160-south',ring:d160Left,fill:dColors[0],smooth:false},
    {name:'minus-160-north',ring:d160Right,fill:dColors[0],smooth:false},
    {name:'minus-180-south',ring:d180Left,fill:'#0000ff',smooth:false},
    {name:'minus-180-north',ring:d180Right,fill:'#0000ff',smooth:false},
    {name:'zero-island',ring:dIsland,fill:dColors[9],zero:true}
  ],
  labelText:dLabelText,labelLat:dLabelLat,labelLogP:dLabelLogP,labelSize:TICK,labelPad:5,labelGapH:9,rotated:19,
  xLabels:true,yLabels:false,yTitleX:711.5,
  bar:{x:1276,w:17,top:563,bottom:866,levels:dLevels,colors:dColors,ticks:dTicks,over:'#ff0000',under:'#0000ff',label:'\u0394O3 (ppbv)',labelX:1344,labelY:715}
});
</script>
</body>
</html>
